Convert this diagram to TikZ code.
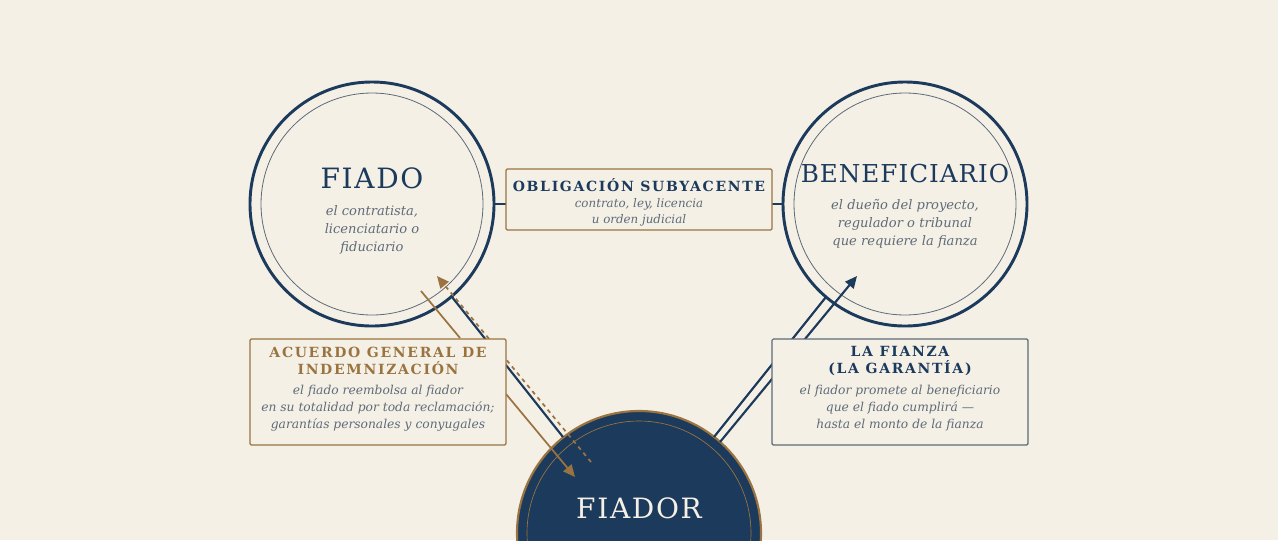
\documentclass[tikz,border=0pt]{standalone}
\usepackage{fontspec}
\setmainfont{DejaVu Serif}
\usetikzlibrary{arrows.meta}
\definecolor{paper}{HTML}{F5F0E6}
\definecolor{navy}{HTML}{1C3A5C}
\definecolor{gold}{HTML}{9A7440}
\definecolor{slate}{HTML}{5E6B78}
\tikzset{every picture/.style={line width=0.75pt}}
\tikzset{
  party/.style={circle,draw=navy,line width=2.2pt,fill=paper,inner sep=0pt,outer sep=0pt,minimum size=183pt},
  ring/.style={circle,draw=slate,line width=0.6pt,inner sep=0pt,minimum size=166.5pt},
  infobox/.style={draw=#1,rounded corners=1pt,fill=paper,line width=0.9pt,inner sep=0pt,outer sep=0pt},
  boxtitle/.style={font=\fontsize{10.5}{12.5}\selectfont\bfseries\addfontfeature{LetterSpace=12},align=center},
  boxnote/.style={font=\fontsize{9.2}{12.8}\selectfont\itshape,text=slate,align=center},
  tip/.style={-{Triangle[length=9pt,width=8pt]}}
}
\begin{document}
\begin{tikzpicture}[x=0.75pt,y=0.75pt,yscale=-1,xscale=1]
\fill[paper] (0,0) rectangle (1278,540);
\useasboundingbox (0,0) rectangle (1278,540);
\clip (0,0) rectangle (1278,540);
% Circles
\node[party] (fiado) at (372,204) {};
\node[ring] at (372,204) {};
\node[party] (benef) at (905,204) {};
\node[ring] at (905,204) {};
\node[circle,draw=gold,line width=1.6pt,fill=navy,inner sep=0pt,minimum size=183pt] (fiador) at (639,533) {};
\node[circle,draw=gold,line width=0.5pt,inner sep=0pt,minimum size=168pt] at (639,533) {};
\draw (372,178) node [text=navy,font=\fontsize{21}{24}\selectfont\addfontfeature{LetterSpace=6}] {FIADO};
\draw (372,230) node [boxnote,font=\fontsize{9.8}{13.5}\selectfont\itshape] {el contratista,\\licenciatario o\\fiduciario};
\draw (905,174) node [text=navy,font=\fontsize{18.5}{22}\selectfont\addfontfeature{LetterSpace=4}] {BENEFICIARIO};
\draw (905,224) node [boxnote,font=\fontsize{9.8}{13.5}\selectfont\itshape] {el due\~no del proyecto,\\regulador o tribunal\\que requiere la fianza};
\draw (639,508) node [text=paper,font=\fontsize{21}{24}\selectfont\addfontfeature{LetterSpace=6}] {FIADOR};
% Connectors
\coordinate (fromL) at (421,291);
\coordinate (toL) at (437,276);
\coordinate (dashEnd) at (591,462);
\draw[navy,line width=1.6pt] (452,297) -- (563,437);
\draw[gold,line width=1.3pt] (fromL) -- (460,338);
\draw[gold,line width=1.3pt,tip] (506,394) -- (575,477);
\draw[gold,line width=1.3pt,dashed,tip] (dashEnd) -- (toL);
\draw[navy,line width=1.6pt] (714,437) -- (826,297);
\draw[navy,line width=1.6pt,tip] (720,442) -- (857,276);
\draw[navy,line width=1.6pt] (fiado.east) -- (benef.west);
% Boxes
\node[infobox=gold,minimum width=199.5pt,minimum height=45.75pt] (oblig) at (639,199.5) {};
\draw (639,185) node [boxtitle,text=navy] {OBLIGACIÓN SUBYACENTE};
\draw (639,212) node [boxnote,font=\fontsize{8.9}{11.8}\selectfont\itshape] {contrato, ley, licencia\\u orden judicial};
\node[infobox=gold,minimum width=192pt,minimum height=79.5pt] (acuerdo) at (378,392) {};
\draw (378,361) node [boxtitle,text=gold] {ACUERDO GENERAL DE\\INDEMNIZACIÓN};
\draw (378,408) node [boxnote] {el fiado reembolsa al fiador\\en su totalidad por toda reclamación;\\garantías personales y conyugales};
\node[infobox=slate,minimum width=192pt,minimum height=79.5pt] (fianza) at (900,392) {};
\draw (900,361) node [boxtitle,text=navy] {LA FIANZA\\(LA GARANTÍA)};
\draw (900,408) node [boxnote] {el fiador promete al beneficiario\\que el fiado cumplirá —\\hasta el monto de la fianza};
\end{tikzpicture}
\end{document}
